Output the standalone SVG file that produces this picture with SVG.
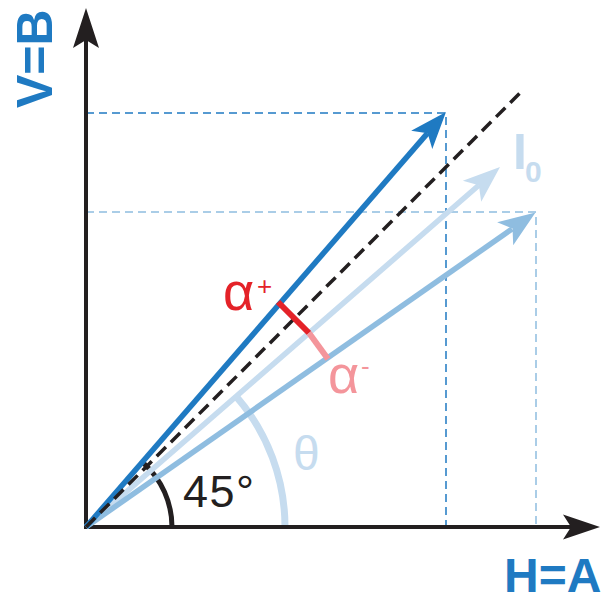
<svg xmlns="http://www.w3.org/2000/svg" width="608" height="601" viewBox="0 0 608 601">
<style>
.ax{stroke:#231f20;stroke-width:4;fill:none}
.dkb{stroke:#1f7ac2;stroke-width:5.5;fill:none}
.ltb{stroke:#c6dcef;stroke-width:5.5;fill:none}
.mdb{stroke:#8fbde0;stroke-width:5.5;fill:none}
.lbl{font-family:"Liberation Sans",Arial,sans-serif}
.bold{font-weight:bold}
</style>
<rect width="608" height="601" fill="#fff"/>
<g id="guides">
<path d="M86,113 H446 V527" stroke="#1f7ac2" stroke-width="1.5" stroke-dasharray="8,5" fill="none"/>
<path d="M86,212 H536 V527" stroke="#8fbde0" stroke-width="1.5" stroke-dasharray="8,5" fill="none"/>
</g>
<g id="angles">
<path d="M285,527 A199,199 0 0,0 236.3,396.6" stroke="#c6dcef" stroke-width="7" fill="none"/>
<path d="M172,527 A86,86 0 0,0 143.5,463.1" stroke="#231f20" stroke-width="5" fill="none"/>
</g>
<g id="connectors">
<g id="axis-v"><line class="ax" x1="86" y1="529" x2="86" y2="40"/><path d="M86,8 L99,48 L86,40 L73,48 Z" fill="#231f20"/></g>
<g id="axis-h"><line class="ax" x1="84" y1="527" x2="572" y2="527"/><path d="M600,527 L563,514.5 L571,527 L563,539.5 Z" fill="#231f20"/></g>
<g id="vec-I0"><line class="ltb" x1="86" y1="527" x2="478.8" y2="185.3"/><path d="M0,0 L-37,-14 L-28,0 L-37,14 Z" fill="#c6dcef" transform="translate(500,167) rotate(-40.93)"/></g>
<g id="vec-minus"><line class="mdb" x1="86" y1="527" x2="512.1" y2="228.9"/><path d="M0,0 L-37,-14 L-28,0 L-37,14 Z" fill="#8fbde0" transform="translate(535.5,212.5) rotate(-34.97)"/></g>
<g id="vec-plus"><line class="dkb" x1="86" y1="527" x2="427.6" y2="133.1"/><path d="M0,0 L-37,-14 L-28,0 L-37,14 Z" fill="#1f7ac2" transform="translate(446,112) rotate(-48.99)"/></g>
<line id="diag45" x1="86" y1="527" x2="520" y2="93" stroke="#231f20" stroke-width="3.5" stroke-dasharray="13,7"/>
<line id="alpha-plus-seg" x1="278" y1="302" x2="309" y2="333" stroke="#e42228" stroke-width="6"/>
<line id="alpha-minus-seg" x1="309" y1="333" x2="328" y2="359" stroke="#f4959b" stroke-width="6"/>
</g>
<g id="labels">
<text class="lbl" x="223" y="310" font-size="54" fill="#e42228">α</text>
<text class="lbl" x="257" y="295" font-size="26" fill="#e42228">+</text>
<text class="lbl" x="328" y="393" font-size="54" fill="#f4959b">α</text>
<text class="lbl" x="361" y="375" font-size="26" fill="#f4959b">-</text>
<text class="lbl" x="293" y="470" font-size="48" fill="#c6dcef">θ</text>
<text class="lbl" x="183" y="507" font-size="45" letter-spacing="1.5" fill="#231f20">45°</text>
<text class="lbl bold" x="513" y="169" font-size="50" fill="#c6dcef">I</text>
<text class="lbl bold" x="525" y="182" font-size="30" fill="#c6dcef">0</text>
<text class="lbl bold" x="504" y="592" font-size="48" fill="#1f7ac2">H=A</text>
<text class="lbl bold" transform="translate(52,108) rotate(-90)" font-size="50" fill="#1f7ac2">V=B</text>
</g>
</svg>
